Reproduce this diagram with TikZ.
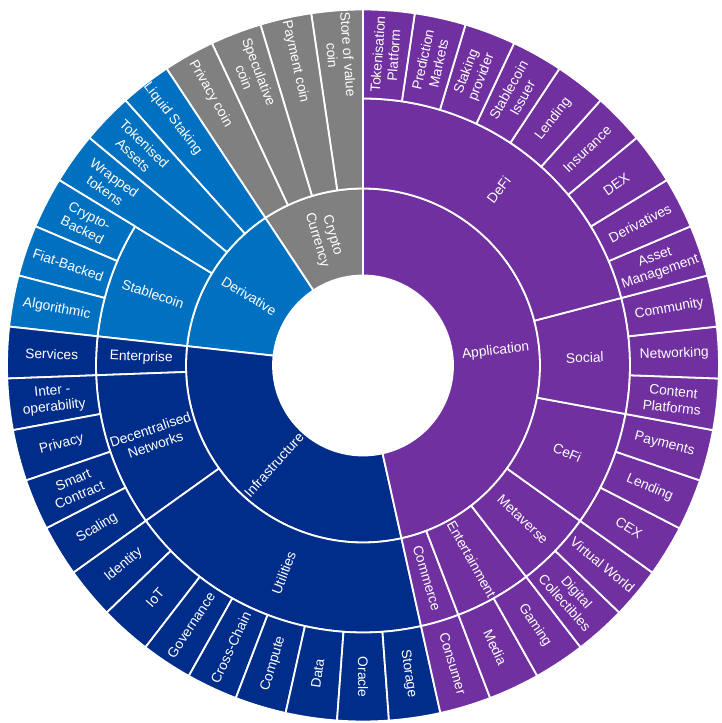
\documentclass[tikz,border=0pt]{standalone}
\usepackage{fontspec}
\setmainfont{Liberation Sans}
\definecolor{appl}{RGB}{112,48,160}
\definecolor{infra}{RGB}{0,45,138}
\definecolor{deriv}{RGB}{0,112,192}
\definecolor{crypto}{RGB}{128,128,128}
\tikzset{
  seg/.style={fill=#1,draw=white,line width=1.8pt,line join=round},
  lbl/.style={text=white,align=center,inner sep=0pt,font=\fontsize{13.8}{16}\selectfont}
}
% one sector of the sunburst: inner r, outer r, first leaf, last leaf, colour
\newcommand{\sunseg}[5]{%
  \pgfmathsetmacro\segA{90+(#3)*360/43}
  \pgfmathsetmacro\segB{90+(#4)*360/43}
  \path[seg=#5] (\segA:#1pt) arc[start angle=\segA,end angle=\segB,radius=#1pt]
    -- (\segB:#2pt) arc[start angle=\segB,end angle=\segA,radius=#2pt] -- cycle;}
% label: name, radius, middle leaf, text
\newcommand{\sunlbl}[4]{%
  \pgfmathsetmacro\lblang{mod(90+(#3)*360/43,360)}
  \pgfmathsetmacro\lblrot{(\lblang>90.1 && \lblang<269.9) ? \lblang-180 : \lblang}
  \node[lbl,rotate=\lblrot] (#1) at (\lblang:#2pt) {#4};}
\begin{document}
\begin{tikzpicture}
  \useasboundingbox (-363pt,-357.5pt) rectangle (359pt,365.5pt);
  \foreach \ka/\kb/\col in {0/4/crypto,4/10/deriv,10/23/infra,23/43/appl}
    {\sunseg{90}{177}{\ka}{\kb}{\col}}
  \foreach \ka/\kb/\col in {7/10/deriv,10/11/infra,11/15/infra,15/23/infra,23/24/appl,
      24/26/appl,26/28/appl,28/31/appl,31/34/appl,34/43/appl}
    {\sunseg{177}{267}{\ka}{\kb}{\col}}
  \foreach \k in {0,...,3} {\sunseg{177}{356}{\k}{\k+1}{crypto}}
  \foreach \k in {4,5,6} {\sunseg{177}{356}{\k}{\k+1}{deriv}}
  \foreach \k in {7,8,9} {\sunseg{267}{356}{\k}{\k+1}{deriv}}
  \foreach \k in {10,...,22} {\sunseg{267}{356}{\k}{\k+1}{infra}}
  \foreach \k in {23,...,42} {\sunseg{267}{356}{\k}{\k+1}{appl}}

  \foreach \nm/\k/\txt in {cryptocur/2/{Crypto\\Currency},derivative/7/Derivative,
      infrastructure/16.5/Infrastructure,application/33/Application}
    {\sunlbl{\nm}{133.5}{\k}{\txt}}
  \foreach \nm/\k/\txt in {stablecoin/8.5/Stablecoin,enterprise/10.5/Enterprise,
      decnet/13/{Decentralised\\Networks},utilities/19/Utilities,commerce/23.5/Commerce,
      entertainment/25/Entertainment,metaverse/27/Metaverse,cefi/29.5/CeFi,
      social/32.5/Social,defi/38.5/DeFi}
    {\sunlbl{\nm}{222}{\k}{\txt}}
  \foreach \k/\txt in {0/{Store of value\\coin},1/Payment coin,2/{Speculative\\coin},
      3/Privacy coin,4/Liquid Staking,5/{Tokenised\\Assets},6/{Wrapped\\tokens},
      7/{Crypto-\\Backed},8/Fiat-Backed,9/Algorithmic,10/Services,
      11/{Inter -\\operability},12/Privacy,13/{Smart\\Contract},14/Scaling,
      15/Identity,16/IoT,17/Governance,18/Cross-Chain,19/Compute,20/Data,
      21/Oracle,22/Storage,23/Consumer,24/Media,25/Gaming,26/{Digital\\Collectibles},
      27/Virtual World,28/CEX,29/Lending,30/Payments,31/{Content\\Platforms},
      32/Networking,33/Community,34/{Asset\\Management},35/Derivatives,36/DEX,
      37/Insurance,38/Lending,39/{Stablecoin\\Issuer},40/{Staking\\provider},
      41/{Prediction\\Markets},42/{Tokenisation\\Platform}}
    {\sunlbl{leaf\k}{311.5}{\k+0.5}{\txt}}
\end{tikzpicture}
\end{document}
